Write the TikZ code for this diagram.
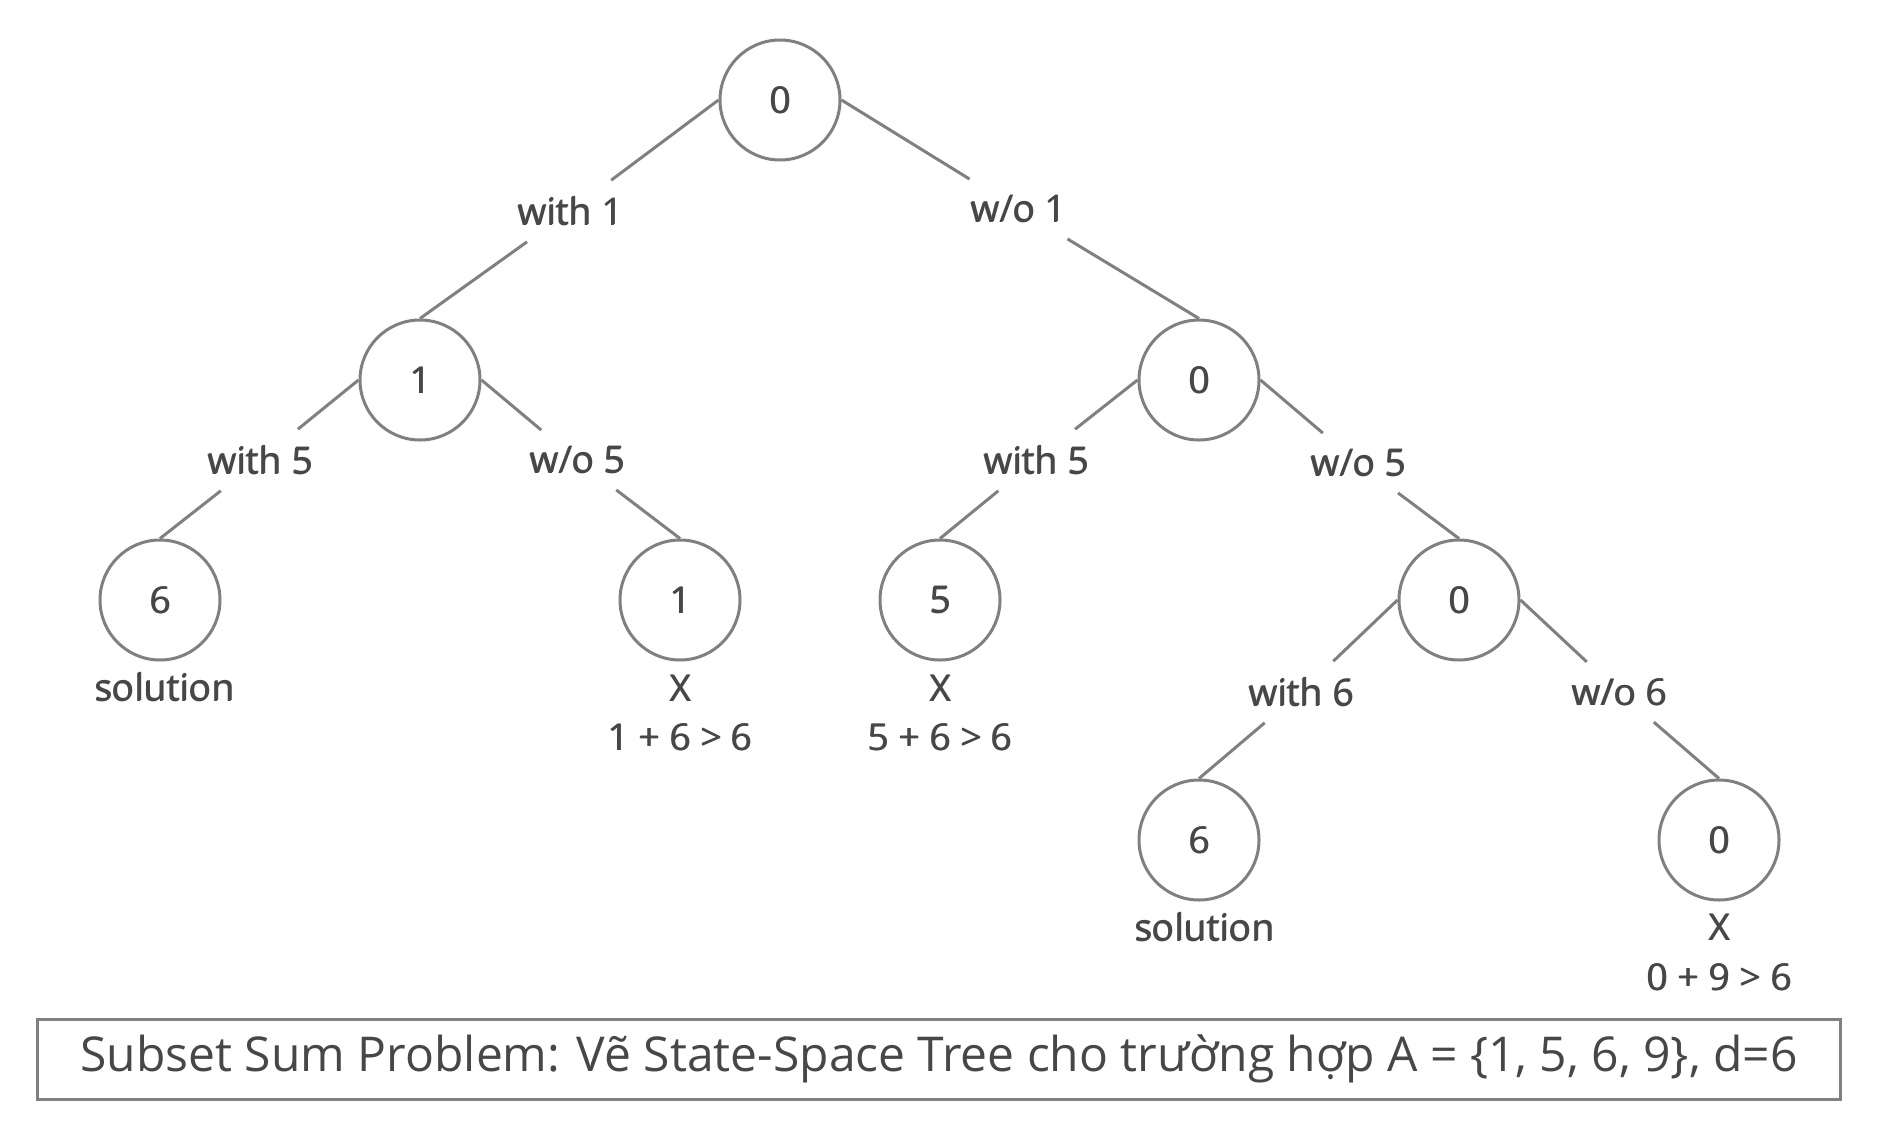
\documentclass[tikz,border=0pt]{standalone}
\usepackage{fontspec}
\setmainfont{Open Sans}
\newcommand\sbt[1]{\rlap{\kern0.5pt\raisebox{0.15pt}{#1}}#1}
\definecolor{linegray}{HTML}{808080}
\definecolor{txtgray}{HTML}{474747}
\begin{document}
\begin{tikzpicture}[x=0.5pt,y=-0.5pt,
  lblfont/.style={font=\fontsize{18.5}{22}\selectfont},
  st/.style={circle, draw=linegray, line width=1.5pt, minimum size=60pt, inner sep=0pt,
    text=txtgray, lblfont},
  lbl/.style={inner sep=8pt, text=txtgray, lblfont},
  note/.style={inner sep=0pt, text=txtgray, lblfont},
  edge/.style={draw=linegray, line width=1.5pt},
  titlebox/.style={draw=linegray, line width=1.5pt, minimum width=901.5pt, minimum height=40pt,
    inner sep=0pt, text=txtgray, font=\fontsize{24}{28}\selectfont}]
\useasboundingbox (0,0) rectangle (1880,1141);
% state nodes
\node[st] (r)  at (780,100) {\sbt{0}};
\node[st] (n1) at (420,380) {\sbt{1}};
\node[st] (n2) at (1199,380) {\sbt{0}};
\node[st] (n3) at (160,600) {\sbt{6}};
\node[st] (n4) at (680,600) {\sbt{1}};
\node[st] (n5) at (940,600) {\sbt{5}};
\node[st] (n6) at (1459,600) {\sbt{0}};
\node[st] (n7) at (1199,840) {\sbt{6}};
\node[st] (n8) at (1719,840) {\sbt{0}};
% edge labels
\node[lbl] (l1) at (570,211) {\sbt{with 1}};
\node[lbl] (l2) at (1018,209) {\sbt{w/o 1}};
\node[lbl] (l3) at (260,460) {\sbt{with 5}};
\node[lbl] (l4) at (577,460) {\sbt{w/o 5}};
\node[lbl] (l5) at (1036,460) {\sbt{with 5}};
\node[lbl] (l6) at (1358,463) {\sbt{w/o 5}};
\node[lbl] (l7) at (1301,692) {\sbt{with 6}};
\node[lbl] (l8) at (1619,692) {\sbt{w/o 6}};
% edges
\draw[edge] (r.west) -- (l1);  \draw[edge] (l1) -- (n1.north);
\draw[edge] (r.east) -- (l2);  \draw[edge] (l2) -- (n2.north);
\draw[edge] (n1.west) -- (l3); \draw[edge] (l3) -- (n3.north);
\draw[edge] (n1.east) -- (l4); \draw[edge] (l4) -- (n4.north);
\draw[edge] (n2.west) -- (l5); \draw[edge] (l5) -- (n5.north);
\draw[edge] (n2.east) -- (l6); \draw[edge] (l6) -- (n6.north);
\draw[edge] (n6.west) -- (l7); \draw[edge] (l7) -- (n7.north);
\draw[edge] (n6.east) -- (l8); \draw[edge] (l8) -- (n8.north);
% notes
\node[note] (s1) at (164,687) {\sbt{solution}};
\node[note] (x1) at (680,688) {\sbt{X}};
\node[note] (c1) at (680,737) {\sbt{1 + 6 > 6}};
\node[note] (x2) at (940,688) {\sbt{X}};
\node[note] (c2) at (940,737) {\sbt{5 + 6 > 6}};
\node[note] (s2) at (1204,927) {\sbt{solution}};
\node[note] (x3) at (1719,927) {\sbt{X}};
\node[note] (c3) at (1719,977) {\sbt{0 + 9 > 6}};
% title
\node[titlebox] (title) at (939,1059) {Subset Sum Problem: Vẽ State-Space Tree cho trường hợp A = \{1, 5, 6, 9\}, d=6};
\end{tikzpicture}
\end{document}
